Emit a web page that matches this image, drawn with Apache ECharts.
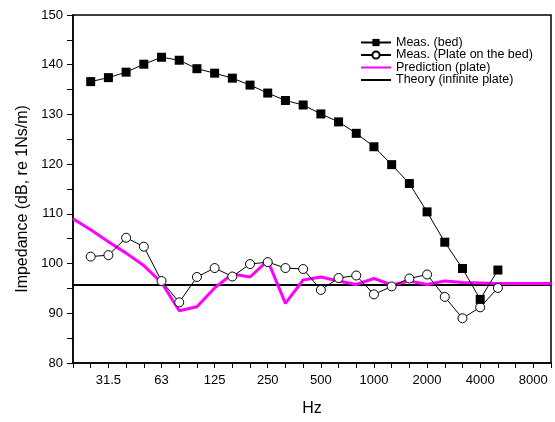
<!DOCTYPE html>
<html>
<head>
<meta charset="utf-8">
<script src="https://cdn.jsdelivr.net/npm/echarts@6/dist/echarts.min.js"></script>
<style>
  html, body { margin: 0; padding: 0; background: #fff; }
  #chart { width: 555px; height: 422px; }
</style>
</head>
<body>
<div id="chart"></div>
<script>
// third-octave bands, 20 Hz .. 10 kHz
var bands = ["20", "25", "31.5", "40", "50", "63", "80", "100", "125", "160", "200", "250",
  "315", "400", "500", "630", "800", "1000", "1250", "1600", "2000", "2500", "3150",
  "4000", "5000", "6300", "8000", "10000"];
var tickLabels = ["31.5", "63", "125", "250", "500", "1000", "2000", "4000", "8000"];

// 25 Hz .. 5000 Hz
var bedDb = [136.6, 137.4, 138.5, 140.1, 141.5, 140.9, 139.2, 138.3, 137.3, 135.9, 134.3,
  132.8, 131.9, 130.1, 128.5, 126.2, 123.5, 119.9, 116.1, 110.4, 104.3, 99.0, 92.8, 98.7];
var plateDb = [101.4, 101.7, 105.2, 103.4, 96.5, 92.2, 97.3, 99.1, 97.4, 99.9, 100.3,
  99.1, 98.9, 94.7, 97.1, 97.6, 93.8, 95.4, 97.0, 97.8, 93.3, 89.0, 91.2, 95.1];
// 20 Hz .. 10 kHz
var predictionDb = [109.0, 106.8, 104.4, 102.1, 99.6, 96.2, 90.5, 91.3, 95.1, 97.9, 97.3,
  100.6, 92.0, 96.7, 97.3, 96.5, 95.8, 97.0, 95.7, 96.5, 95.8, 96.5, 96.2, 96.1, 96.0,
  96.0, 96.0, 96.0];
var theoryDb = 95.7;

function pad(vals, start) {
  var out = [];
  for (var i = 0; i < bands.length; i++) {
    var j = i - start;
    out.push(j >= 0 && j < vals.length ? vals[j] : null);
  }
  return out;
}

var font = "Liberation Sans, Arial, sans-serif";
var chart = echarts.init(document.getElementById("chart"));
chart.setOption({
  animation: false,
  textStyle: { fontFamily: font },
  grid: {
    left: 73, right: 4, top: 15, bottom: 56,
    show: true, borderColor: "#000", borderWidth: 1.5
  },
  legend: {
    orient: "vertical",
    left: 355, top: 31,
    itemWidth: 30, itemHeight: 9, itemGap: -0.5,
    textStyle: { fontSize: 12.5, lineHeight: 11, color: "#000", fontFamily: font },
    data: [
      "Meas. (bed)",
      "Meas. (Plate on the bed)",
      { name: "Prediction (plate)", itemStyle: { opacity: 0 } },
      { name: "Theory (infinite plate)", itemStyle: { opacity: 0 } }
    ]
  },
  xAxis: {
    type: "category",
    data: bands,
    boundaryGap: false,
    name: "Hz",
    nameLocation: "middle",
    nameGap: 38,
    nameTextStyle: { fontSize: 16, color: "#000", fontFamily: font },
    axisLine: { lineStyle: { color: "#000", width: 1.5 } },
    axisTick: { interval: 0, length: 5, lineStyle: { color: "#000" } },
    axisLabel: {
      interval: function (i, v) { return tickLabels.indexOf(v) >= 0; },
      fontSize: 13, color: "#000", margin: 11
    },
    splitLine: { show: false }
  },
  yAxis: {
    type: "value",
    min: 80, max: 150, interval: 10,
    name: "Impedance (dB, re 1Ns/m)",
    nameLocation: "middle",
    nameGap: 42,
    nameTextStyle: { fontSize: 16, color: "#000", fontFamily: font, padding: [0, 20, 0, 0] },
    axisLine: { show: true, lineStyle: { color: "#000", width: 1.5 } },
    axisTick: { show: true, length: 6, lineStyle: { color: "#000" } },
    minorTick: { show: true, splitNumber: 2, length: 6, lineStyle: { color: "#000" } },
    axisLabel: { fontSize: 13, color: "#000", margin: 10 },
    splitLine: { show: false }
  },
  series: [
    {
      name: "Theory (infinite plate)",
      type: "line",
      data: bands.map(function () { return theoryDb; }),
      showSymbol: false, symbol: "none",
      lineStyle: { color: "#000", width: 2 },
      itemStyle: { color: "#000" },
      z: 1
    },
    {
      name: "Prediction (plate)",
      type: "line",
      data: predictionDb,
      showSymbol: false, symbol: "none",
      lineStyle: { color: "#ff00ff", width: 3 },
      itemStyle: { color: "#ff00ff" },
      z: 2
    },
    {
      name: "Meas. (Plate on the bed)",
      type: "line",
      data: pad(plateDb, 1),
      symbol: "circle", symbolSize: 9,
      lineStyle: { color: "#000", width: 1 },
      itemStyle: { color: "#fff", borderColor: "#000", borderWidth: 1 },
      z: 3
    },
    {
      name: "Meas. (bed)",
      type: "line",
      data: pad(bedDb, 1),
      symbol: "rect", symbolSize: 9,
      lineStyle: { color: "#000", width: 1 },
      itemStyle: { color: "#000" },
      z: 4
    }
  ]
});
</script>
</body>
</html>
